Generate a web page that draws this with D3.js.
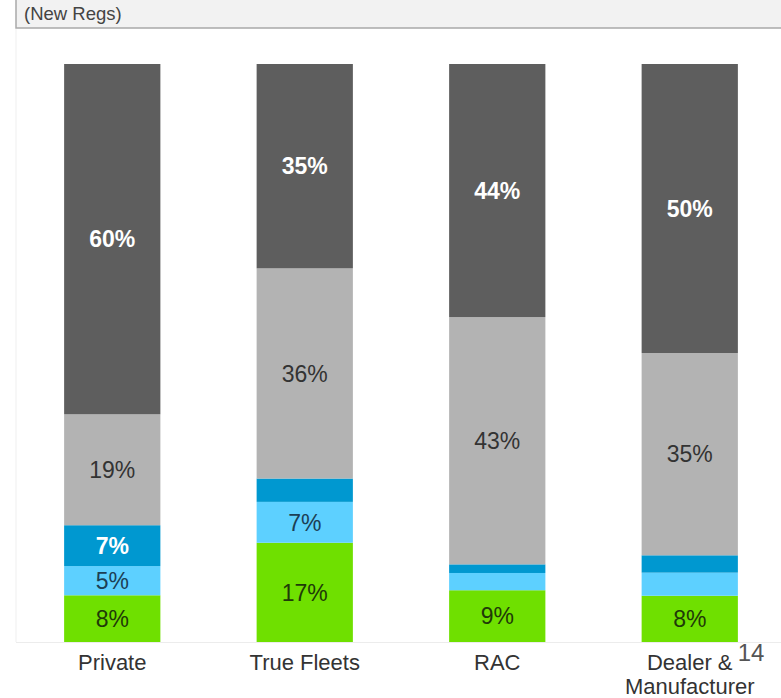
<!DOCTYPE html>
<html><head><meta charset="utf-8">
<script src="https://cdn.jsdelivr.net/npm/d3@7"></script>
<style>body{margin:0;background:#fff;}svg{display:block;}</style>
</head><body>
<svg id="c" width="781" height="698"></svg>
<script>
const categories = ["Private", "True Fleets", "RAC", "Dealer & Manufacturer"];
const seriesNames = ["s1", "s2", "s3", "s4", "s5"];
// bottom to top
const green     = [8, 17, 9, 8];
const lightBlue = [5, 7, 3, 4];
const darkBlue  = [7, 4, 1.5, 3];
const lightGrey = [19, 36, 43, 35];
const darkGrey  = [60, 35, 44, 50];
const yTicks = [0, 100];

const colors = ["#6fe000", "#5dd0ff", "#0098d0", "#b3b3b3", "#5e5e5e"];
const labelColors = ["#1f3a08", "#1c3f55", "#ffffff", "#333333", "#ffffff"];
const labelWeights = ["normal", "normal", "bold", "normal", "bold"];

const rows = categories.map((c, i) => {
  const vals = [green[i], lightBlue[i], darkBlue[i], lightGrey[i], darkGrey[i]];
  const sum = d3.sum(vals);
  const o = {cat: c};
  seriesNames.forEach((s, k) => { o[s] = vals[k] / sum * 100; o[s + "_raw"] = vals[k]; });
  return o;
});

const svg = d3.select("#c");
const font = "'Liberation Sans', Arial, sans-serif";

// header box
svg.append("rect").attr("x", 16).attr("y", -2).attr("width", 770).attr("height", 30)
  .attr("fill", "#f2f2f2").attr("stroke", "#a9a9a9").attr("stroke-width", 1.5);
svg.append("text").attr("x", 24).attr("y", 20).attr("font-family", font)
  .attr("font-size", 18.5).attr("fill", "#444").text("(New Regs)");

const plotTop = 64, plotBottom = 642, left = 16, right = 781;
const x = d3.scaleBand().domain(categories).range([16, 786]).paddingInner(0.5).paddingOuter(0.25);
const y = d3.scaleLinear().domain([yTicks[0], yTicks[1]]).range([plotBottom, plotTop]);

// faint frame lines
svg.append("line").attr("x1", left).attr("x2", left).attr("y1", 29).attr("y2", plotBottom)
  .attr("stroke", "#efefef").attr("stroke-width", 1);
svg.append("line").attr("x1", left).attr("x2", right).attr("y1", plotBottom + 0.5).attr("y2", plotBottom + 0.5)
  .attr("stroke", "#ececec").attr("stroke-width", 1);

const stack = d3.stack().keys(seriesNames)(rows);

const g = svg.append("g");
stack.forEach((layer, k) => {
  g.selectAll(null).data(layer).enter().append("rect")
    .attr("x", d => x(d.data.cat))
    .attr("width", x.bandwidth())
    .attr("y", d => y(d[1]))
    .attr("height", d => y(d[0]) - y(d[1]))
    .attr("fill", colors[k]);
  g.selectAll(null).data(layer.filter(d => d.data[seriesNames[k] + "_raw"] >= 5)).enter().append("text")
    .attr("x", d => x(d.data.cat) + x.bandwidth() / 2)
    .attr("y", d => (y(d[0]) + y(d[1])) / 2)
    .attr("dy", "0.36em")
    .attr("text-anchor", "middle")
    .attr("font-family", font)
    .attr("font-size", 23)
    .attr("font-weight", labelWeights[k])
    .attr("fill", labelColors[k])
    .text(d => Math.round(d.data[seriesNames[k] + "_raw"]) + "%");
});

// category labels
const xl = svg.append("g");
categories.forEach(c => {
  const parts = c === "Dealer & Manufacturer" ? ["Dealer &", "Manufacturer"] : [c];
  const t = xl.append("text").attr("x", x(c) + x.bandwidth() / 2).attr("y", 670)
    .attr("text-anchor", "middle").attr("font-family", font).attr("font-size", 22).attr("fill", "#333");
  parts.forEach((p, i) => t.append("tspan").attr("x", x(c) + x.bandwidth() / 2).attr("dy", i ? 24 : 0).text(p));
});

// page number
svg.append("text").attr("x", 751).attr("y", 661).attr("text-anchor", "middle")
  .attr("font-family", font).attr("font-size", 24).attr("fill", "#555").text("14");
</script>
</body></html>
